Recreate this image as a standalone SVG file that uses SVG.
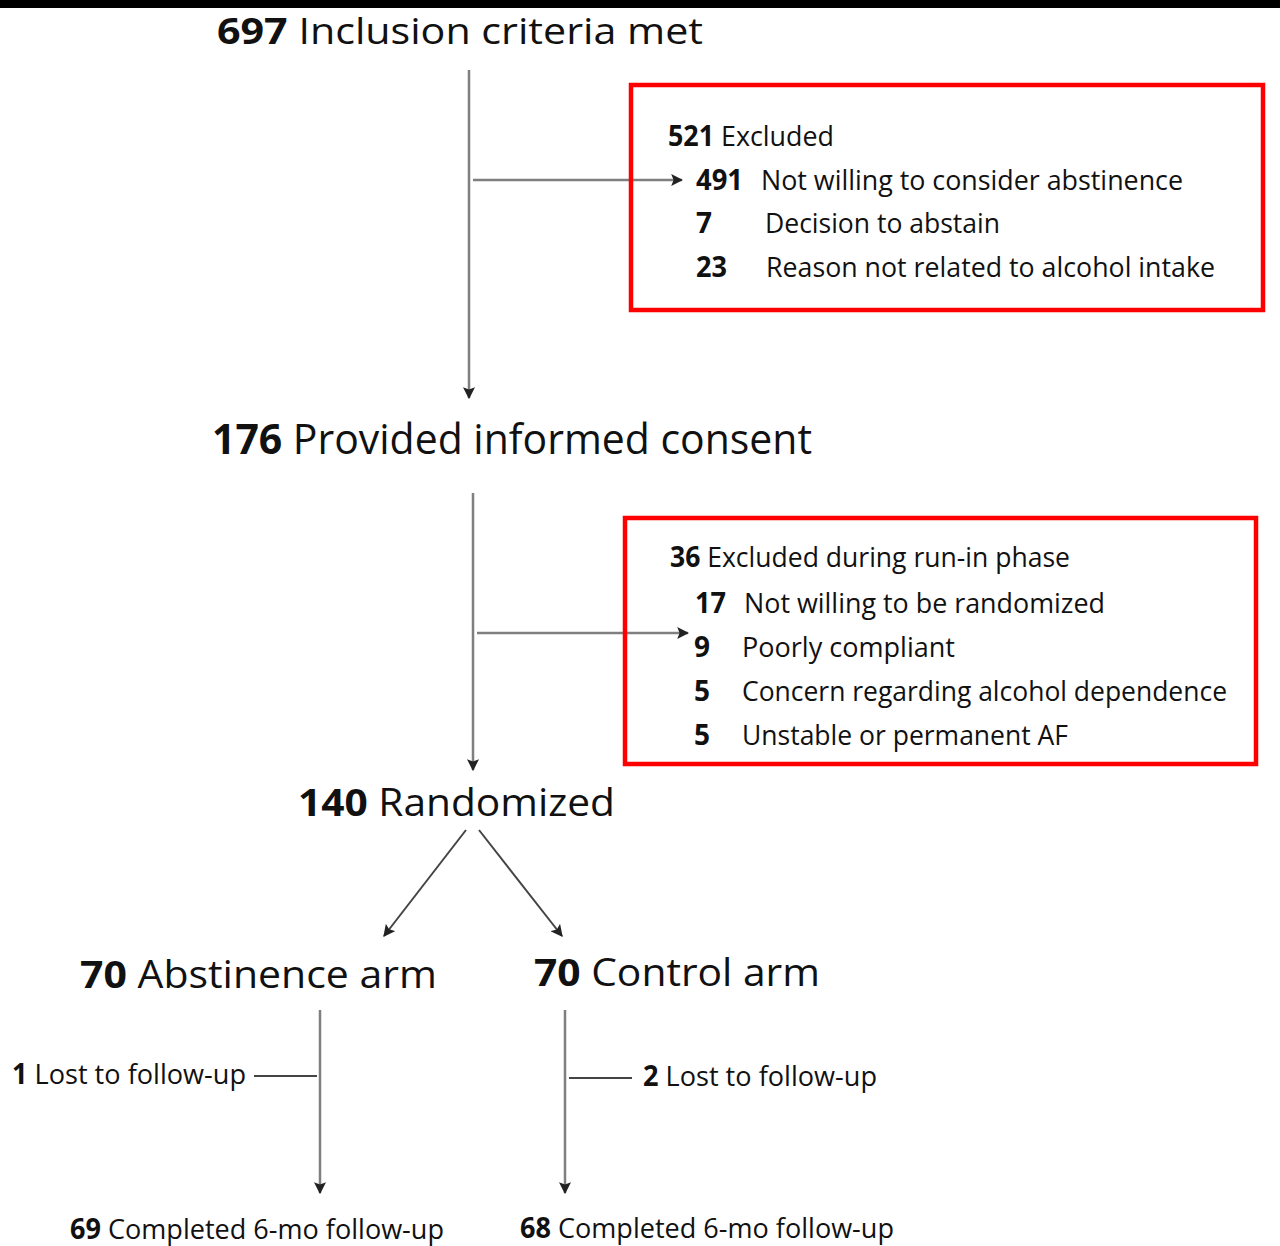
<svg xmlns="http://www.w3.org/2000/svg" width="1280" height="1246" viewBox="0 0 1280 1246">
<defs>
<marker id="ah2" viewBox="0 0 10 10" refX="9" refY="5" markerWidth="12" markerHeight="12" orient="auto" markerUnits="userSpaceOnUse">
<path d="M0,0 L10,5 L0,10 L2,5 Z" fill="#222"/>
</marker>
<style>
text{font-family:"Open Sans","Noto Sans",sans-serif;fill:#111;}
.b{font-weight:bold;}
.big{font-size:38px;}
.mid{font-size:28px;}
.c{fill:none;stroke:#7f7f7f;stroke-width:2.5;}
.d{fill:none;stroke:#444;stroke-width:2;}
.box{fill:none;stroke:#ff0000;stroke-width:4.5;}
</style>
</defs>
<rect x="0" y="0" width="1280" height="1246" fill="#fff"/>
<rect x="0" y="0" width="1280" height="8" fill="#000"/>

<g id="connectors">
<line class="c" x1="469" y1="70" x2="469" y2="398" marker-end="url(#ah2)"/>
<line class="c" x1="473" y1="180" x2="682" y2="180" marker-end="url(#ah2)"/>
<line class="c" x1="473" y1="493" x2="473" y2="770" marker-end="url(#ah2)"/>
<line class="c" x1="477" y1="633" x2="688" y2="633" marker-end="url(#ah2)"/>
<line class="d" x1="466" y1="830" x2="384" y2="936" marker-end="url(#ah2)"/>
<line class="d" x1="479" y1="830" x2="562" y2="936" marker-end="url(#ah2)"/>
<line class="c" x1="320" y1="1010" x2="320" y2="1193" marker-end="url(#ah2)"/>
<line class="d" x1="254" y1="1076" x2="317" y2="1076"/>
<line class="c" x1="565" y1="1010" x2="565" y2="1193" marker-end="url(#ah2)"/>
<line class="d" x1="569" y1="1078" x2="632" y2="1078"/>
</g>

<g id="n697">
<text class="big" x="217" y="44" textLength="486" lengthAdjust="spacingAndGlyphs" style="font-size:36px"><tspan class="b">697</tspan> Inclusion criteria met</text>
</g>

<g id="excl1">
<rect class="box" x="631" y="85" width="632" height="225"/>
<text class="mid" x="668" y="146" textLength="166" lengthAdjust="spacingAndGlyphs"><tspan class="b">521</tspan> Excluded</text>
<text class="mid b" x="696" y="190" textLength="47" lengthAdjust="spacingAndGlyphs">491</text>
<text class="mid" x="761" y="190" textLength="422" lengthAdjust="spacingAndGlyphs">Not willing to consider abstinence</text>
<text class="mid b" x="696" y="233">7</text>
<text class="mid" x="765" y="233" textLength="235" lengthAdjust="spacingAndGlyphs">Decision to abstain</text>
<text class="mid b" x="696" y="277" textLength="31" lengthAdjust="spacingAndGlyphs">23</text>
<text class="mid" x="766" y="277" textLength="449" lengthAdjust="spacingAndGlyphs">Reason not related to alcohol intake</text>
</g>

<g id="n176">
<text class="big" x="212" y="454" textLength="600" lengthAdjust="spacingAndGlyphs" style="font-size:42px"><tspan class="b">176</tspan> Provided informed consent</text>
</g>

<g id="excl2">
<rect class="box" x="625" y="518" width="631" height="246"/>
<text class="mid" x="670" y="567" textLength="400" lengthAdjust="spacingAndGlyphs"><tspan class="b">36</tspan> Excluded during run-in phase</text>
<text class="mid b" x="695" y="613" textLength="31" lengthAdjust="spacingAndGlyphs">17</text>
<text class="mid" x="744" y="613" textLength="361" lengthAdjust="spacingAndGlyphs">Not willing to be randomized</text>
<text class="mid b" x="694" y="657">9</text>
<text class="mid" x="742" y="657" textLength="213" lengthAdjust="spacingAndGlyphs">Poorly compliant</text>
<text class="mid b" x="694" y="701">5</text>
<text class="mid" x="742" y="701" textLength="485" lengthAdjust="spacingAndGlyphs">Concern regarding alcohol dependence</text>
<text class="mid b" x="694" y="745">5</text>
<text class="mid" x="742" y="745" textLength="326" lengthAdjust="spacingAndGlyphs">Unstable or permanent AF</text>
</g>

<g id="n140">
<text class="big" x="298" y="816" textLength="317" lengthAdjust="spacingAndGlyphs"><tspan class="b">140</tspan> Randomized</text>
</g>

<g id="abst">
<text class="big" x="80" y="988" textLength="357" lengthAdjust="spacingAndGlyphs"><tspan class="b">70</tspan> Abstinence arm</text>
</g>

<g id="ctrl">
<text class="big" x="534" y="986" textLength="286" lengthAdjust="spacingAndGlyphs"><tspan class="b">70</tspan> Control arm</text>
</g>

<g id="lost1">
<text class="mid" x="12" y="1084" textLength="234" lengthAdjust="spacingAndGlyphs"><tspan class="b">1</tspan> Lost to follow-up</text>
</g>

<g id="lost2">
<text class="mid" x="643" y="1086" textLength="234" lengthAdjust="spacingAndGlyphs"><tspan class="b">2</tspan> Lost to follow-up</text>
</g>

<g id="done1">
<text class="mid" x="70" y="1239" textLength="374" lengthAdjust="spacingAndGlyphs"><tspan class="b">69</tspan> Completed 6-mo follow-up</text>
</g>

<g id="done2">
<text class="mid" x="520" y="1238" textLength="374" lengthAdjust="spacingAndGlyphs"><tspan class="b">68</tspan> Completed 6-mo follow-up</text>
</g>
</svg>
